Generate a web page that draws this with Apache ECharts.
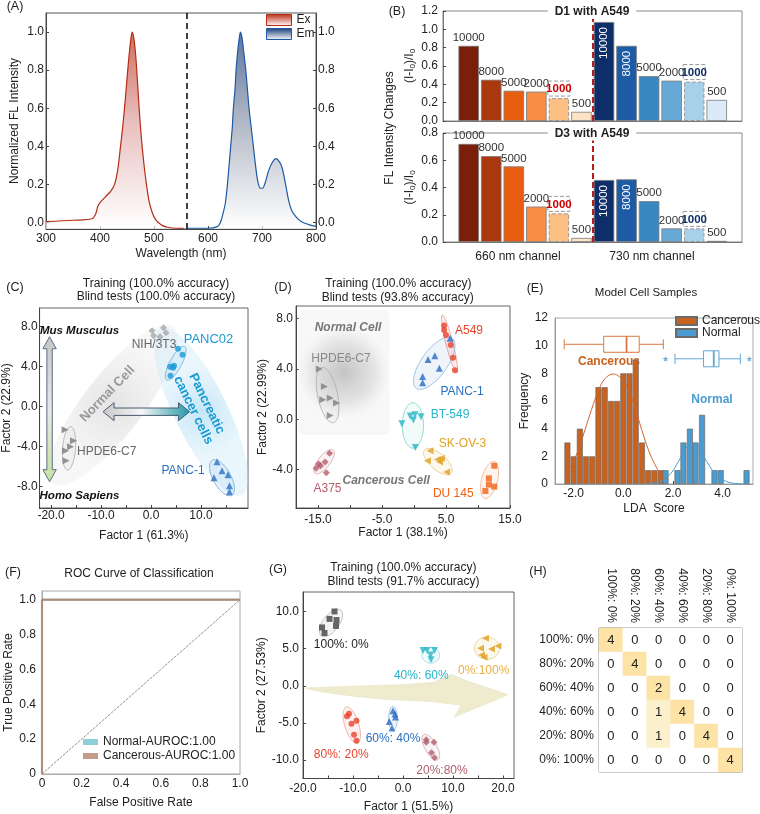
<!DOCTYPE html>
<html><head><meta charset="utf-8">
<script src="https://cdn.jsdelivr.net/npm/echarts@6.0.0/dist/echarts.min.js"></script>
<style>html,body{margin:0;padding:0;background:#fff}#c{width:760px;height:814px}</style>
</head><body><div id="c"></div><script>
// ================= DATA =================
// (A) spectra
const exWl  = [300,350,385,392,396,400,410,420,427,433,438,442,446,449,452,455,458,460,463,466,469,472,475,478,482,486,491,497,503,508,515,525,540,555];
const exVal = [0.005,0.012,0.02,0.045,0.085,0.105,0.135,0.165,0.2,0.28,0.4,0.5,0.62,0.72,0.82,0.91,0.98,1.0,0.96,0.88,0.76,0.62,0.5,0.4,0.29,0.2,0.11,0.05,0.015,0.0,-0.015,-0.025,-0.03,-0.03];
const emWl  = [560,600,618,623,628,632,636,639,642,645,647,650,652,655,658,660,663,666,670,673,676,680,684,688,692,697,701,706,712,718,726,732,737,741,745,749,754,760,768,776,788,800];
const emVal = [-0.03,-0.03,-0.02,0.0,0.05,0.1,0.2,0.3,0.4,0.5,0.6,0.7,0.8,0.9,0.97,1.0,0.97,0.9,0.8,0.7,0.6,0.5,0.4,0.3,0.22,0.18,0.18,0.21,0.27,0.31,0.335,0.32,0.29,0.24,0.18,0.12,0.07,0.04,0.015,0.0,-0.012,-0.02];
const aDivider = 560;
// (B) bars
const bConc   = ['10000','8000','5000','2000','1000','500'];
const bD1_660 = [0.82,0.45,0.33,0.32,0.25,0.10];
const bD1_730 = [1.08,0.82,0.49,0.44,0.43,0.23];
const bD3_660 = [0.72,0.63,0.555,0.26,0.21,0.03];
const bD3_730 = [0.455,0.46,0.30,0.10,0.10,0.008];
const bChannels = ['660 nm channel','730 nm channel'];
// (C) LDA scatter
const cNIH    = [[0.2,7.6],[0.5,7.1],[1.8,7.0],[2.5,7.9],[3.0,7.4]];
const cPANC02 = [[5.4,5.8],[6.3,5.2],[3.8,4.0],[4.4,3.9],[4.6,4.1],[3.9,3.1]];
const cHPDE   = [[-17.2,-2.3],[-15.5,-3.4],[-16.1,-4.0],[-17.1,-4.4],[-17.0,-5.4]];
const cPANC1  = [[13.2,-5.5],[14.2,-6.4],[15.4,-6.8],[12.6,-7.1],[15.7,-7.9],[15.7,-8.5]];
// ellipses: [cx, cy, ux, uy, vx, vy]
const cBandNormal = [-7.6,0.17,12.1,7.8,4.6,-1.9];
const cBandCancer = [10.0,-0.5,-8.18,8.34,4.72,1.21];
const cEllPANC02 = [4.93,4.34,1.8,1.67,1.03,-0.29];
const cEllHPDE   = [-16.4,-4.16,0.3,2.17,1.3,0];
const cEllPANC1  = [14.2,-7.1,1.96,-1.75,1.53,0.45];
const cArrowV = [-20.3,7.0,-20.3,-7.5];
const cArrowH = [-9.6,-0.5,7.7,-0.5];
// (D)
const dHPDE  = [[-14.8,4.0],[-14.0,2.6],[-14.25,1.55],[-13.1,1.7],[-12.1,1.3],[-13.1,0.3]];
const dA549  = [[4.7,7.45],[4.7,7.1],[5.0,6.7],[5.75,5.9],[6.1,4.9],[6.4,3.9]];
const dPANC1 = [[5.65,6.45],[3.25,5.05],[2.2,4.75],[3.95,4.05],[1.35,3.4],[1.35,2.9]];
const dBT549 = [[-1.9,-0.35],[-0.6,0.25],[0.15,0.35],[1.1,0.2],[-0.1,-0.05],[0.2,-2.25]];
const dSKOV3 = [[2.5,-2.5],[2.1,-3.3],[3.65,-3.2],[4.3,-3.1],[4.0,-3.4],[5.1,-4.2]];
const dDU145 = [[12.55,-3.7],[11.7,-4.7],[11.7,-5.2],[12.55,-5.36],[11.15,-5.7]];
const dA375  = [[-13.2,-2.7],[-13.9,-3.4],[-14.9,-3.55],[-15.3,-3.9],[-13.7,-4.25],[-14.6,-3.7]];
const dNormalBox = [-18.1,8.7,-3.8,-1.25];
const dEllHPDE  = [-13.5,1.93,-0.9,2.2,1.53,0.16];
const dEllA549  = [5.55,6.0,-1.14,2.29,0.53,0.07];
const dEllPANC1 = [3.16,4.45,2.8,1.99,1.64,-0.6];
const dEllBT549 = [-0.17,-0.49,0,1.81,1.66,0];
const dEllSKOV3 = [3.72,-3.37,2.08,-0.93,0.82,0.48];
const dEllDU145 = [11.8,-4.83,0.73,1.46,1.2,-0.16];
const dEllA375  = [-14.05,-3.37,1.43,0.93,0.73,-0.29];
// (E) histogram
const eCancerX = [-2.25,-2.0,-1.75,-1.5,-1.25,-1.0,-0.75,-0.5,-0.25,0.0,0.25,0.5,0.75,1.0,1.25,1.5];
const eCancerN = [3,2,4,2,2,7,7,6,6,8,8,9,3,1,1,1];
const eNormalX = [1.70,2.18,2.42,2.68,2.91,3.17,3.67,3.92,4.96];
const eNormalN = [1,1,3,4,3,5,1,1,1];
const eCancerFitX = [-2.35,-2.08,-1.81,-1.54,-1.28,-1.01,-0.74,-0.40,-0.07,0.20,0.47,0.74,1.01,1.28,1.54,1.81];
const eCancerFitY = [0.65,1.38,2.47,3.93,5.38,6.72,7.61,7.95,7.6,6.84,5.5,3.93,2.47,1.38,0.65,0.29];
const eNormalFitX = [1.01,1.41,1.68,1.95,2.21,2.48,2.68,2.89,3.15,3.42,3.69,3.96,4.36,4.9];
const eNormalFitY = [0.02,0.15,0.4,0.85,1.6,2.45,2.85,2.75,2.2,1.45,0.75,0.35,0.08,0.0];
// box: [min, q1, median, q3, max, yPos]
const eBoxCancer = [-2.38,-0.79,0.13,0.64,1.61,10.1];
const eBoxNormal = [2.08,3.23,3.64,3.85,4.71,9.05];
const eOutliers  = [[1.70,9.05],[5.07,9.05]];
// (F) ROC
const rocFpr = [0,0,1];
const rocTpr = [0,1,1];
const rocDiag = [[0,0],[1,1]];
// (G)
const g100 = [[-13.7,10.0],[-14.7,9.0],[-13.3,8.85],[-13.4,8.05],[-16.2,7.85],[-15.7,7.1]];
const g40  = [[4.0,4.75],[4.8,4.75],[5.5,4.15],[6.3,4.75],[5.6,3.5]];
const g0   = [[16.5,6.4],[15.5,5.05],[17.7,4.95],[19.0,5.35],[15.7,4.15],[16.2,3.85]];
const g80  = [[-10.8,-3.75],[-11.2,-4.1],[-10.3,-5.1],[-9.3,-4.7],[-9.8,-6.6],[-9.3,-7.4]];
const g60  = [[-2.0,-3.35],[-1.6,-3.8],[-1.5,-4.2],[-2.75,-4.8],[-2.2,-5.7]];
const g20  = [[4.65,-7.25],[4.65,-7.6],[6.2,-7.6],[5.7,-9.0],[6.3,-9.7]];
const gEll100 = [-14.4,8.46,1.94,1.74,1.28,-0.64];
const gEll40  = [5.56,4.12,1.76,0,0,1.07];
const gEll0   = [16.8,5.06,2.5,0,0,1.48];
const gEll80  = [-10.24,-5.28,-1.1,2.42,1.34,0.27];
const gEll60  = [-2.0,-4.39,0,1.61,0.87,0];
const gEll20  = [5.56,-8.26,1.44,-1.68,1.04,0.4];
const gArrowX = [-19.5,-10,0,6,9.7,13,17.5,21,17.5,13.5,10.3,11.6,5,-3,-10,-17];
const gArrowY = [-0.3,-0.05,0.15,0.45,1.5,0.6,-0.4,-1.2,-2.2,-3.3,-4.2,-2.6,-2.1,-1.85,-1.4,-0.75];
// (H) confusion matrix
const hLabels = ['100%: 0%','80%: 20%','60%: 40%','40%: 60%','20%: 80%','0%: 100%'];
const hMatrix = [
  [4,0,0,0,0,0],
  [0,4,0,0,0,0],
  [0,0,2,0,0,0],
  [0,0,1,4,0,0],
  [0,0,1,0,4,0],
  [0,0,0,0,0,4]
];

// ================= CHART =================
const chart = echarts.init(document.getElementById('c'), null, {width:760, height:814});
const GR = echarts.graphic;
const FONT = '"Liberation Sans", Arial, Helvetica, sans-serif';
const lin = (x2,y2,stops)=>new GR.LinearGradient(0,0,x2,y2,stops.map(s=>({offset:s[0],color:s[1]})));
const rad = (stops)=>new GR.RadialGradient(0.5,0.5,0.5,stops.map(s=>({offset:s[0],color:s[1]})));
function deep(a,b){const o=Object.assign({},a);for(const k in b){const v=b[k];if(v&&typeof v==='object'&&!Array.isArray(v)&&a[k]&&typeof a[k]==='object'&&!Array.isArray(a[k]))o[k]=deep(a[k],v);else o[k]=v;}return o;}
const baseAxis = {
  type:'value',
  axisLine:{show:true,onZero:false,lineStyle:{color:'#444',width:1}},
  axisTick:{show:true,inside:true,length:3,lineStyle:{color:'#444'}},
  axisLabel:{color:'#222',fontSize:12,fontFamily:FONT,margin:4},
  splitLine:{show:false},
  nameLocation:'middle',
  nameTextStyle:{color:'#222',fontSize:12,fontFamily:FONT}
};
const ax = o=>deep(baseAxis,o);
const f1 = v=>v.toFixed(1);
const f0 = v=>v===0?'0':v.toFixed(1);
const grid = (l,t,w,h,bc)=>({left:l,top:t,width:w,height:h,show:true,borderColor:bc||'#777',borderWidth:1,backgroundColor:'transparent'});

const grids = [
  grid(46,13,270,216,'#555'),   //0 A
  grid(443,11,299,110,'#888'),  //1 B top
  grid(443,133,299,109,'#888'), //2 B bottom
  grid(35,308,213,200,'#666'),  //3 C
  grid(296,306,214,202,'#666'), //4 D
  grid(555,318,198,166,'#aaa'), //5 E
  grid(42,591,198,183,'#aaa'),  //6 F
  grid(303,592,211,187,'#666'), //7 G
  grid(599,628,143,144,'#777')  //8 H
];

const ab = {fontSize:12,lineHeight:14,color:'#222',fontFamily:FONT,rich:{s:{fontSize:8,lineHeight:8,verticalAlign:'bottom',color:'#222',fontFamily:FONT}}};
const aTicks = [0,0.2,0.4,0.6,0.8,1.0];
const xAxes = [
  ax({gridIndex:0,min:300,max:800,interval:100,name:'Wavelength (nm)',nameGap:19,axisLabel:{margin:4}}),
  ax({gridIndex:1,min:-0.14,max:13.12,axisLabel:{show:false},axisTick:{show:false},axisLine:{lineStyle:{color:'#777'}}}),
  ax({gridIndex:2,min:-0.14,max:13.12,axisLabel:{show:false},axisTick:{show:false},axisLine:{lineStyle:{color:'#777'}}}),
  ax({gridIndex:3,min:-22.3,max:19.4,axisLabel:{customValues:[-20,-10,0,10],formatter:f1,margin:2},axisTick:{customValues:[-20,-15,-10,-5,0,5,10,15]},name:'Factor 1 (61.3%)',nameGap:22}),
  ax({gridIndex:4,min:-18.44,max:15,axisLabel:{customValues:[-15,-5,5,15],formatter:f1,margin:6},axisTick:{customValues:[-15,-10,-5,0,5,10,15]},name:'Factor 1 (38.1%)',nameGap:11}),
  ax({gridIndex:5,min:-2.75,max:5.22,axisLabel:{customValues:[-2,0,2,4],formatter:f1,margin:4},axisTick:{customValues:[-2,0,2,4]},axisLine:{lineStyle:{color:'#999'}},name:'LDA  Score',nameGap:19}),
  ax({gridIndex:6,min:0,max:1,axisLabel:{customValues:aTicks,formatter:f0,margin:4},axisTick:{show:false},axisLine:{lineStyle:{color:'#aaa'}},name:'False Positive Rate',nameGap:23}),
  ax({gridIndex:7,min:-20,max:22.2,axisLabel:{customValues:[-20,-10,0,10,20],formatter:f1,margin:4},axisTick:{customValues:[-20,-15,-10,-5,0,5,10,15,20]},name:'Factor 1 (51.5%)',nameGap:22.5}),
  {gridIndex:8,type:'category',position:'top',data:hLabels,axisLine:{show:false},axisTick:{show:false},splitLine:{show:false},axisLabel:{rotate:90,margin:5,color:'#222',fontSize:12,fontFamily:FONT}}
];
const yAxes = [
  ax({gridIndex:0,min:-0.034,max:1.1,axisLabel:{customValues:aTicks,formatter:f1,margin:2},axisTick:{customValues:aTicks},name:'Normalized FL Intensity',nameGap:25}),
  ax({gridIndex:0,position:'right',min:-0.034,max:1.1,axisLabel:{customValues:aTicks,formatter:f1,margin:2},axisTick:{customValues:aTicks}}),
  ax({gridIndex:1,min:0,max:1.2,interval:0.2,axisLabel:{formatter:f1,margin:5},axisLine:{lineStyle:{color:'#777'}},name:'(I-I{s|0})/I{s|0}',nameGap:26,nameTextStyle:ab}),
  ax({gridIndex:2,min:0,max:0.8,interval:0.2,axisLabel:{formatter:f1,margin:5},axisLine:{lineStyle:{color:'#777'}},name:'(I-I{s|0})/I{s|0}',nameGap:26,nameTextStyle:ab}),
  ax({gridIndex:3,min:-10.13,max:9.87,axisLabel:{customValues:[-8,-4,0,4,8],formatter:f1,margin:2},axisTick:{customValues:[-8,-4,0,4,8]},name:'Factor 2 (22.9%)',nameGap:23}),
  ax({gridIndex:4,min:-7.06,max:9.01,axisLabel:{customValues:[-4,0,4,8],formatter:f1,margin:3},axisTick:{customValues:[-4,0,4,8]},name:'Factor 2 (22.99%)',nameGap:21}),
  ax({gridIndex:5,min:0,max:12,interval:2,axisLabel:{margin:7},axisTick:{show:false},axisLine:{lineStyle:{color:'#999'}},name:'Frequency',nameGap:23}),
  ax({gridIndex:6,min:0,max:1.05,axisLabel:{customValues:aTicks,formatter:f0,margin:6},axisTick:{show:false},axisLine:{lineStyle:{color:'#aaa'}},name:'True Positive Rate',nameGap:27}),
  ax({gridIndex:7,min:-12.48,max:12.62,axisLabel:{customValues:[-10,-5,0,5,10],formatter:f1,margin:4},axisTick:{customValues:[-10,-5,0,5,10]},name:'Factor 2 (27.53%)',nameGap:25}),
  {gridIndex:8,type:'category',inverse:true,data:hLabels,axisLine:{show:false},axisTick:{show:false},splitLine:{show:false},axisLabel:{margin:5,color:'#222',fontSize:12,fontFamily:FONT}}
];

const series = [];
// ---------- A
const exGrad = lin(0,1,[[0,'#bd2f17'],[0.45,'#dea2a2'],[1,'rgba(255,255,255,0.95)']]);
const emGrad = lin(0,1,[[0,'#163a78'],[0.42,'#8892a6'],[1,'rgba(255,255,255,0.95)']]);
series.push({type:'line',name:'Ex',xAxisIndex:0,yAxisIndex:0,data:exWl.map((w,i)=>[w,exVal[i]]),smooth:0.3,showSymbol:false,symbol:'none',
  color:'#b32d14',lineStyle:{color:'#b32d14',width:1.2},itemStyle:{color:'#b32d14'},areaStyle:{origin:'start',color:exGrad},z:3,
  markLine:{silent:true,symbol:'none',label:{show:false},lineStyle:{color:'#111',type:[6,4],width:1.6},data:[{xAxis:aDivider}]}});
series.push({type:'line',name:'Em',xAxisIndex:0,yAxisIndex:0,data:emWl.map((w,i)=>[w,emVal[i]]),smooth:0.3,showSymbol:false,symbol:'none',
  color:'#1d5aa4',lineStyle:{color:'#1d5aa4',width:1.2},itemStyle:{color:'#1d5aa4'},areaStyle:{origin:'start',color:emGrad},z:3});

// ---------- B
const orangeC = ['#7b1f0b','#a9380f','#e95d12','#f98f47','#fdbe84','#fde2c4'];
const blueC   = ['#0d2e68','#1e5ba7','#3b87c1','#67a9d5','#a8d0ea','#dce9f6'];
function bSeries(v660, v730, xi, yi, lastGrey){
  const data = [];
  const mk = (x,v,color,i,ch)=>{
    const d = {value:[x,v],itemStyle:{color}};
    if (ch===1 && i<2) d.label = {position:'insideTop',rotate:90,align:'right',verticalAlign:'middle',distance:5,color:'#fff'};
    if (i===4){
      d.itemStyle = {color,borderType:'dashed',borderColor:'#999',borderWidth:1};
      d.label = {fontWeight:'bold',color:ch===0?'#cc0000':'#0d2e68',borderType:'dashed',borderColor:'#999',borderWidth:1,padding:[2,1,1,1],width:20,align:'center'};
    }
    return d;
  };
  v660.forEach((v,i)=>data.push(mk(i+1,v,orangeC[i],i,0)));
  v730.forEach((v,i)=>data.push(mk(i+7,v,(lastGrey&&i===5)?'#8a8a8a':blueC[i],i,1)));
  return {type:'bar',xAxisIndex:xi,yAxisIndex:yi,barWidth:20.5,data,itemStyle:{borderColor:'#7a7a7a',borderWidth:0.8},
    label:{show:true,position:'top',distance:2,color:'#333',fontSize:11.5,fontFamily:FONT,formatter:p=>bConc[p.dataIndex%6]},
    markLine:{silent:true,symbol:'none',label:{show:false},lineStyle:{color:'#b81c1c',type:[6,3],width:2},data:[{xAxis:6.5}]}};
}
series.push(bSeries(bD1_660,bD1_730,1,2,false));
series.push(bSeries(bD3_660,bD3_730,2,3,true));

// ---------- helpers for custom shapes
function ellipseSeries(xi,yi,geoms,styles,z){
  return {type:'custom',xAxisIndex:xi,yAxisIndex:yi,silent:true,z:z||1,clip:true,encode:{x:0,y:1},data:geoms,
    renderItem:(params,api)=>{
      const g = geoms[params.dataIndex]; const pts=[];
      for(let k=0;k<72;k++){const t=k/72*Math.PI*2;pts.push(api.coord([g[0]+g[2]*Math.cos(t)+g[4]*Math.sin(t),g[1]+g[3]*Math.cos(t)+g[5]*Math.sin(t)]));}
      const st = styles[params.dataIndex];
      return {type:'polygon',shape:{points:pts},style:{fill:st.fill,stroke:st.stroke||null,lineWidth:st.lw==null?0.8:st.lw}};
    }};
}
function arrowSeries(xi,yi,arrows,dims,styles){
  return {type:'custom',xAxisIndex:xi,yAxisIndex:yi,silent:true,z:3,clip:false,encode:{x:[0,2],y:[1,3]},data:arrows,
    renderItem:(params,api)=>{
      const v = arrows[params.dataIndex]; const d = dims[params.dataIndex]; const st = styles[params.dataIndex];
      const a = api.coord([v[0],v[1]]), b = api.coord([v[2],v[3]]);
      const dx=b[0]-a[0], dy=b[1]-a[1], len=Math.hypot(dx,dy), ux=dx/len, uy=dy/len, nx=-uy, ny=ux;
      const P=(p,al,sd)=>[p[0]+ux*al+nx*sd,p[1]+uy*al+ny*sd];
      const L=d[0],H=d[1],S=d[2];
      const pts=[a,P(a,L,H),P(a,L,S),P(b,-L,S),P(b,-L,H),b,P(b,-L,-H),P(b,-L,-S),P(a,L,-S),P(a,L,-H)];
      return {type:'polygon',shape:{points:pts},style:{fill:st.fill,stroke:st.stroke,lineWidth:1}};
    }};
}
function sc(xi,yi,data,symbol,rot,color,size){
  return {type:'scatter',xAxisIndex:xi,yAxisIndex:yi,data,symbol,symbolRotate:rot,symbolSize:size,itemStyle:{color},z:5,silent:true};
}

// ---------- C
series.push(ellipseSeries(3,4,[cBandNormal,cBandCancer],[
  {fill:rad([[0,'rgba(200,200,200,0.5)'],[1,'rgba(228,228,228,0.3)']])},
  {fill:rad([[0,'rgba(150,210,240,0.55)'],[1,'rgba(195,230,248,0.35)']])}],1));
series.push(ellipseSeries(3,4,[cEllPANC02,cEllHPDE,cEllPANC1],[
  {fill:'rgba(120,190,230,0.15)',stroke:'#5ab0dc'},
  {fill:'rgba(200,200,200,0.15)',stroke:'#aaaaaa'},
  {fill:'rgba(120,180,230,0.15)',stroke:'#6aa8d8'}],2));
series.push(arrowSeries(3,4,[cArrowV,cArrowH],[[12,6.7,2.7],[11,9,3.7]],[
  {fill:lin(0,1,[[0,'#c4c4c4'],[0.5,'#e8e8e8'],[1,'#c4e2a0']]),stroke:'#5d6d80'},
  {fill:lin(1,0,[[0,'#c8c8c8'],[0.45,'#f6f6f6'],[1,'#1f98a6']]),stroke:'#4a5a70'}]));
series.push(sc(3,4,cNIH,'diamond',0,'#a8a8a8',7));
series.push(sc(3,4,cPANC02,'circle',0,'#1a9ad6',6));
series.push(sc(3,4,cHPDE,'triangle',-90,'#7a7a7a',7));
series.push(sc(3,4,cPANC1,'triangle',0,'#2a70c0',7));

// ---------- D
series.push({type:'custom',xAxisIndex:4,yAxisIndex:5,silent:true,z:1,encode:{x:[0,2],y:[1,3]},data:[dNormalBox],
  renderItem:(params,api)=>{const p1=api.coord([dNormalBox[0],dNormalBox[1]]),p2=api.coord([dNormalBox[2],dNormalBox[3]]);
    return {type:'rect',shape:{x:p1[0],y:p1[1],width:p2[0]-p1[0],height:p2[1]-p1[1],r:6},
      style:{fill:rad([[0,'rgba(190,190,190,0.9)'],[0.65,'rgba(220,220,220,0.8)'],[1,'rgba(240,240,240,0.5)']])}};}});
series.push(ellipseSeries(4,5,[dEllHPDE,dEllA549,dEllPANC1,dEllBT549,dEllSKOV3,dEllDU145,dEllA375],[
  {fill:'rgba(200,200,200,0.12)',stroke:'#aaaaaa'},
  {fill:'rgba(232,67,42,0.10)',stroke:'#e8958a'},
  {fill:'rgba(42,112,192,0.08)',stroke:'#8ab6e0'},
  {fill:'rgba(60,200,190,0.08)',stroke:'#7ad2c4'},
  {fill:'rgba(224,160,32,0.08)',stroke:'#e8c47a'},
  {fill:'rgba(240,96,16,0.07)',stroke:'#f2ab80'},
  {fill:'rgba(184,92,106,0.08)',stroke:'#d3a0a9'}],2));
series.push(sc(4,5,dHPDE,'triangle',-90,'#808080',7));
series.push(sc(4,5,dA549,'circle',0,'#e8432a',6));
series.push(sc(4,5,dPANC1,'triangle',0,'#2a6fc0',7));
series.push(sc(4,5,dBT549,'triangle',180,'#28b4c8',7));
series.push(sc(4,5,dSKOV3,'triangle',90,'#dfa020',7));
series.push(sc(4,5,dDU145,'rect',0,'#f26214',6));
series.push(sc(4,5,dA375,'diamond',0,'#b85c6a',7));

// ---------- E
series.push({type:'bar',name:'Cancerous',xAxisIndex:5,yAxisIndex:6,barWidth:6,barGap:'-100%',data:eCancerX.map((x,i)=>[x,eCancerN[i]]),
  itemStyle:{color:'#c8621e',borderColor:'#6a6a6a',borderWidth:0.7},z:2});
series.push({type:'bar',name:'Normal',xAxisIndex:5,yAxisIndex:6,barWidth:6,barGap:'-100%',data:eNormalX.map((x,i)=>[x,eNormalN[i]]),
  itemStyle:{color:'#4a9bd1',borderColor:'#6a6a6a',borderWidth:0.7},z:2});
series.push({type:'line',name:'cfit',xAxisIndex:5,yAxisIndex:6,data:eCancerFitX.map((x,i)=>[x,eCancerFitY[i]]),smooth:0.4,showSymbol:false,symbol:'none',lineStyle:{color:'#d2622c',width:1},z:4,silent:true});
series.push({type:'line',name:'nfit',xAxisIndex:5,yAxisIndex:6,data:eNormalFitX.map((x,i)=>[x,eNormalFitY[i]]),smooth:0.4,showSymbol:false,symbol:'none',lineStyle:{color:'#4a9bd1',width:1},z:4,silent:true});
const boxColors = ['#d9773f','#62a6d6'];
series.push({type:'custom',xAxisIndex:5,yAxisIndex:6,silent:true,z:5,encode:{x:[0,1,2,3,4],y:5},data:[eBoxCancer,eBoxNormal],
  renderItem:(params,api)=>{
    const v=[0,1,2,3,4,5].map(i=>api.value(i)); const y=api.coord([0,v[5]])[1]; const X=i=>api.coord([v[i],v[5]])[0];
    const col=boxColors[params.dataIndex]; const h=8,c=5; const ls={stroke:col,lineWidth:1};
    return {type:'group',children:[
      {type:'line',shape:{x1:X(0),y1:y,x2:X(1),y2:y},style:ls},
      {type:'line',shape:{x1:X(3),y1:y,x2:X(4),y2:y},style:ls},
      {type:'line',shape:{x1:X(0),y1:y-c,x2:X(0),y2:y+c},style:ls},
      {type:'line',shape:{x1:X(4),y1:y-c,x2:X(4),y2:y+c},style:ls},
      {type:'rect',shape:{x:X(1),y:y-h,width:X(3)-X(1),height:2*h},style:{fill:'#fff',stroke:col,lineWidth:1}},
      {type:'line',shape:{x1:X(2),y1:y-h,x2:X(2),y2:y+h},style:{stroke:col,lineWidth:1.8}}
    ]};
  }});
series.push({type:'scatter',xAxisIndex:5,yAxisIndex:6,data:eOutliers,silent:true,z:5,symbolSize:6,itemStyle:{color:'#4a9bd1'},
  symbol:'path://M0,-10L2,-3L9.5,-3L3.5,1.5L6,9L0,4.5L-6,9L-3.5,1.5L-9.5,-3L-2,-3Z'});

// ---------- F
series.push({type:'line',name:'Normal-AUROC:1.00',xAxisIndex:6,yAxisIndex:7,data:rocFpr.map((x,i)=>[x,rocTpr[i]]),showSymbol:false,symbol:'none',
  color:'#8fd0d8',lineStyle:{color:'#8fd0d8',width:2.2},itemStyle:{color:'#8fd0d8'},z:3,clip:false});
series.push({type:'line',name:'Cancerous-AUROC:1.00',xAxisIndex:6,yAxisIndex:7,data:rocFpr.map((x,i)=>[x,rocTpr[i]]),showSymbol:false,symbol:'none',
  color:'#b48c74',lineStyle:{color:'#b48c74',width:2},itemStyle:{color:'#c49c8a'},z:4,clip:false});
series.push({type:'line',name:'diag',xAxisIndex:6,yAxisIndex:7,data:rocDiag,showSymbol:false,symbol:'none',lineStyle:{color:'#777',width:0.8,type:[3,1]},z:2,silent:true});

// ---------- G
series.push({type:'custom',xAxisIndex:7,yAxisIndex:8,silent:true,z:1,data:[[gArrowX[0],gArrowY[0]]],
  renderItem:(params,api)=>({type:'polygon',shape:{points:gArrowX.map((x,i)=>api.coord([x,gArrowY[i]]))},
    style:{fill:'rgba(236,232,198,0.85)',stroke:'rgba(230,226,188,0.6)',lineWidth:1,lineJoin:'round'}})});
series.push(ellipseSeries(7,8,[gEll100,gEll40,gEll0,gEll80,gEll60,gEll20],[
  {fill:'rgba(120,120,120,0.08)',stroke:'#b0b0b8'},
  {fill:'rgba(60,200,210,0.08)',stroke:'#8ad8e0'},
  {fill:'rgba(224,160,32,0.08)',stroke:'#ecc878'},
  {fill:'rgba(232,67,42,0.08)',stroke:'#f0a090'},
  {fill:'rgba(42,112,192,0.08)',stroke:'#8ab6e0'},
  {fill:'rgba(184,92,106,0.08)',stroke:'#d3a0a9'}],2));
series.push(sc(7,8,g100,'rect',0,'#444444',6));
series.push(sc(7,8,g40,'triangle',180,'#28b4c8',7));
series.push(sc(7,8,g0,'triangle',90,'#dfa020',7));
series.push(sc(7,8,g80,'circle',0,'#e8432a',6));
series.push(sc(7,8,g60,'triangle',0,'#2a6fc0',7));
series.push(sc(7,8,g20,'diamond',0,'#b0606e',7));

// ---------- H
const hIdx = series.length;
const hData = [];
hMatrix.forEach((row,r)=>row.forEach((v,c)=>hData.push([c,r,v])));
series.push({type:'heatmap',xAxisIndex:8,yAxisIndex:9,data:hData,silent:true,
  label:{show:true,color:'#222',fontSize:13,fontFamily:FONT},itemStyle:{borderWidth:0}});

// ---------- text annotations [text, x, y, opts]
const notes = [
  ['(A)',15,7,{size:12.5}],
  ['(B)',397,12,{size:12.5}],
  ['D1 with A549',592,12,{bold:true,size:12,bg:'#fff',pad:[1,7]}],
  ['D3 with A549',592,133.5,{bold:true,size:12,bg:'#fff',pad:[1,7]}],
  [bChannels[0],518,257,{size:12}],
  [bChannels[1],652,257,{size:12}],
  ['FL Intensity Changes',390,128,{rot:90,size:12}],
  ['(C)',15,288,{size:12.5}],
  ['Training (100.0% accuracy)',156,283.5,{}],
  ['Blind tests (100.0% accuracy)',156,297,{}],
  ['Mus Musculus',79.5,331,{bold:true,italic:true,size:11.5,color:'#111'}],
  ['Homo Sapiens',79.5,496,{bold:true,italic:true,size:11.5,color:'#111'}],
  ['NIH/3T3',154,345,{color:'#666'}],
  ['PANC02',208.5,339.5,{color:'#1a9ad6',size:13}],
  ['HPDE6-C7',106.7,451.7,{color:'#666'}],
  ['PANC-1',183,471,{color:'#2a70c0',size:12}],
  ['Normal Cell',107.5,394,{bold:true,color:'#999',size:13,rot:46}],
  ['Pancreatic\ncancer cells',200,407,{bold:true,color:'#1a9ad6',size:13,rot:-64,lh:15}],
  ['(D)',283,288,{size:12.5}],
  ['Training (100.0% accuracy)',398.3,284,{}],
  ['Blind tests (93.8% accuracy)',397.7,297.3,{}],
  ['Normal Cell',348,328,{bold:true,italic:true,color:'#777',size:12}],
  ['HPDE6-C7',341,358.7,{color:'#888',size:12}],
  ['A549',469,331,{color:'#e8432a',size:12}],
  ['PANC-1',462,391.7,{color:'#2a6fc0',size:12}],
  ['BT-549',450,415,{color:'#28b4c8',size:12}],
  ['SK-OV-3',462.5,444,{color:'#dfa020',size:12}],
  ['DU 145',453.3,493.3,{color:'#f26214',size:12}],
  ['A375',327.5,489,{color:'#b85c6a',size:12}],
  ['Cancerous Cell',386.2,481,{bold:true,italic:true,color:'#777',size:12}],
  ['(E)',535,289,{size:12.5}],
  ['Model Cell Samples',646,293,{size:11.5}],
  ['Cancerous',578,362,{bold:true,color:'#c8621e',size:12,align:'left',z:1}],
  ['Normal',712,399.3,{bold:true,color:'#4a9bd1',size:12}],
  ['(F)',13,573,{size:12.5}],
  ['ROC Curve of Classification',139,574,{}],
  ['(G)',278,570,{size:12.5}],
  ['Training (100.0% accuracy)',403.3,567.2,{}],
  ['Blind tests (91.7% accuracy)',403.5,581.3,{}],
  ['100%: 0%',341.2,645,{color:'#222',size:12}],
  ['40%: 60%',421.3,675.8,{color:'#28b4c8',size:12}],
  ['0%:100%',483.7,670.5,{color:'#e8b040',size:12}],
  ['80%: 20%',341.2,754.7,{color:'#e8432a',size:12}],
  ['60%: 40%',393,739,{color:'#2a6fc0',size:12}],
  ['20%:80%',442,770.3,{color:'#b0606e',size:12}],
  ['(H)',538,572,{size:12.5}]
];
const graphics = notes.map(([t,x,y,o])=>({type:'text',x,y,rotation:(o.rot||0)*Math.PI/180,z:o.z==null?100:o.z,silent:true,
  style:{text:t,fill:o.color||'#222',fontSize:o.size||12,fontFamily:FONT,fontWeight:o.bold?'bold':'normal',fontStyle:o.italic?'italic':'normal',
    align:o.align||'center',verticalAlign:'middle',lineHeight:o.lh,backgroundColor:o.bg,padding:o.pad}}));

chart.setOption({
  animation:false,
  grid:grids, xAxis:xAxes, yAxis:yAxes, series,
  visualMap:[{type:'piecewise',show:false,seriesIndex:hIdx,dimension:2,
    pieces:[{value:0,color:'#ffffff'},{value:1,color:'#fcf0cc'},{value:2,color:'#fde3a6'},{value:4,color:'#fde3a6'}]}],
  legend:[
    {data:[{name:'Ex',itemStyle:{color:lin(0,1,[[0,'#bd2f17'],[1,'#fff']]),borderColor:'#b32d14',borderWidth:1}},
           {name:'Em',itemStyle:{color:lin(0,1,[[0,'#163a78'],[1,'#fff']]),borderColor:'#1d5aa4',borderWidth:1}}],
     left:266,top:14,orient:'vertical',icon:'rect',itemWidth:25,itemHeight:11,itemGap:2,padding:0,selectedMode:false,
     textStyle:{fontSize:12,color:'#222',fontFamily:FONT}},
    {data:['Cancerous','Normal'],left:675,top:315,orient:'vertical',icon:'rect',itemWidth:21,itemHeight:8,itemGap:0,padding:0,selectedMode:false,
     textStyle:{fontSize:12,lineHeight:12,color:'#222',fontFamily:FONT}},
    {data:['Normal-AUROC:1.00','Cancerous-AUROC:1.00'],left:83,top:736,orient:'vertical',icon:'rect',itemWidth:15,itemHeight:6,itemGap:2,padding:0,selectedMode:false,
     textStyle:{fontSize:12,color:'#222',fontFamily:FONT}}
  ],
  graphic:{elements:graphics}
});
</script></body></html>
